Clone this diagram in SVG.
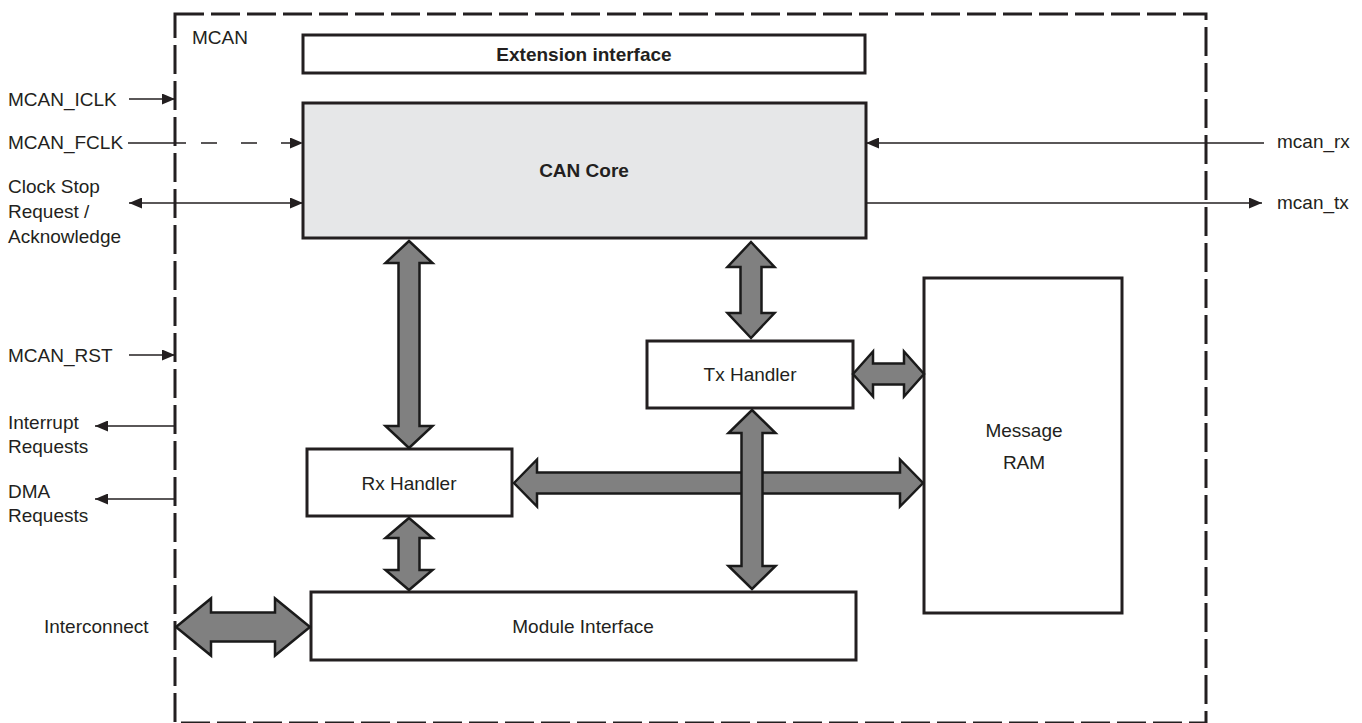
<svg xmlns="http://www.w3.org/2000/svg" width="1362" height="723" viewBox="0 0 1362 723">
  <style>
    text { font-family: "Liberation Sans", Arial, sans-serif; font-size: 19px; fill: #231f20; }
    .bold { font-weight: bold; }
    .mid { text-anchor: middle; }
    .box { fill: #ffffff; stroke: #231f20; stroke-width: 3; }
    .core { fill: #e6e7e8; }
    .frame { fill: none; stroke: #231f20; stroke-width: 3; stroke-dasharray: 29 7; }
    .sig { fill: none; stroke: #231f20; stroke-width: 1.5; }
    .bus { fill: #808080; stroke: #1a1a1a; stroke-width: 2.5; stroke-linejoin: miter; }
  </style>
  <defs>
    <marker id="arrow" viewBox="0 0 13 11" refX="13" refY="5.5" markerWidth="13" markerHeight="11" markerUnits="userSpaceOnUse" orient="auto-start-reverse">
      <path d="M0,0 L13,5.5 L0,11 Z" fill="#231f20"/>
    </marker>
  </defs>

  <rect width="1362" height="723" fill="#ffffff"/>

  <!-- module boundary -->
  <g id="mcan-frame">
    <rect class="frame" x="175" y="14" width="1031" height="709"/>
    <text x="192" y="44">MCAN</text>
  </g>

  <!-- blocks -->
  <g id="extension-interface">
    <rect class="box" x="303" y="35" width="562" height="38"/>
    <text class="bold mid" x="584" y="61">Extension interface</text>
  </g>
  <g id="can-core">
    <rect class="box core" x="303" y="103" width="563" height="135"/>
    <text class="bold mid" x="584" y="177">CAN Core</text>
  </g>
  <g id="tx-handler">
    <rect class="box" x="647" y="341" width="206" height="67"/>
    <text class="mid" x="750" y="381">Tx Handler</text>
  </g>
  <g id="rx-handler">
    <rect class="box" x="307" y="449" width="205" height="67"/>
    <text class="mid" x="409" y="490">Rx Handler</text>
  </g>
  <g id="message-ram">
    <rect class="box" x="924" y="278" width="198" height="335"/>
    <text class="mid" x="1024" y="437">Message</text>
    <text class="mid" x="1024" y="469">RAM</text>
  </g>
  <g id="module-interface">
    <rect class="box" x="311" y="592" width="545" height="68"/>
    <text class="mid" x="583" y="633">Module Interface</text>
  </g>

  <!-- external signal labels -->
  <g id="labels">
    <text x="8" y="106">MCAN_ICLK</text>
    <text x="8" y="149">MCAN_FCLK</text>
    <text x="8" y="193">Clock Stop</text>
    <text x="8" y="218">Request /</text>
    <text x="8" y="243">Acknowledge</text>
    <text x="8" y="362">MCAN_RST</text>
    <text x="8" y="429">Interrupt</text>
    <text x="8" y="453">Requests</text>
    <text x="8" y="498">DMA</text>
    <text x="8" y="522">Requests</text>
    <text x="44" y="633">Interconnect</text>
    <text x="1277" y="148">mcan_rx</text>
    <text x="1277" y="209">mcan_tx</text>
  </g>

  <!-- connectors -->
  <g id="connectors">
    <path class="sig" d="M129,99 L175,99" marker-end="url(#arrow)"/>
    <path class="sig" d="M128,143 L186,143"/>
    <path class="sig" d="M201,143 L303,143" stroke-dasharray="16 24" marker-end="url(#arrow)"/>
    <path class="sig" d="M129,203 L303,203" marker-start="url(#arrow)" marker-end="url(#arrow)"/>
    <path class="sig" d="M129,355 L175,355" marker-end="url(#arrow)"/>
    <path class="sig" d="M175,426 L95,426" marker-end="url(#arrow)"/>
    <path class="sig" d="M175,499 L95,499" marker-end="url(#arrow)"/>
    <path class="sig" d="M1264,143 L866,143" marker-end="url(#arrow)"/>
    <path class="sig" d="M866,203 L1262,203" marker-end="url(#arrow)"/>

    <!-- bus arrows -->
    <path class="bus" d="M409,241 L432.5,263 L419.5,263 L419.5,426 L432.5,426 L409,448 L385.5,426 L398.5,426 L398.5,263 L385.5,263 Z"/>
    <path class="bus" d="M751,242 L774.5,267 L761.5,267 L761.5,313 L774.5,313 L751,338 L727.5,313 L740.5,313 L740.5,267 L727.5,267 Z"/>
    <path class="bus" d="M853,374 L873,351.5 L873,363.5 L904,363.5 L904,351.5 L924,374 L904,396.5 L904,384.5 L873,384.5 L873,396.5 Z"/>
    <path class="bus" d="M514,483 L537,459.5 L537,472.5 L900,472.5 L900,459.5 L923,483 L900,506.5 L900,493.5 L537,493.5 L537,506.5 Z"/>
    <path class="bus" d="M752,410 L775.5,433 L762.5,433 L762.5,566 L775.5,566 L752,589 L728.5,566 L741.5,566 L741.5,433 L728.5,433 Z"/>
    <path class="bus" d="M409,518 L432.5,538 L419.5,538 L419.5,570 L432.5,570 L409,590 L385.5,570 L398.5,570 L398.5,538 L385.5,538 Z"/>
    <path class="bus" d="M176,627 L211,598.5 L211,612.5 L275,612.5 L275,598.5 L310,627 L275,655.5 L275,641.5 L211,641.5 L211,655.5 Z"/>
  </g>
</svg>
